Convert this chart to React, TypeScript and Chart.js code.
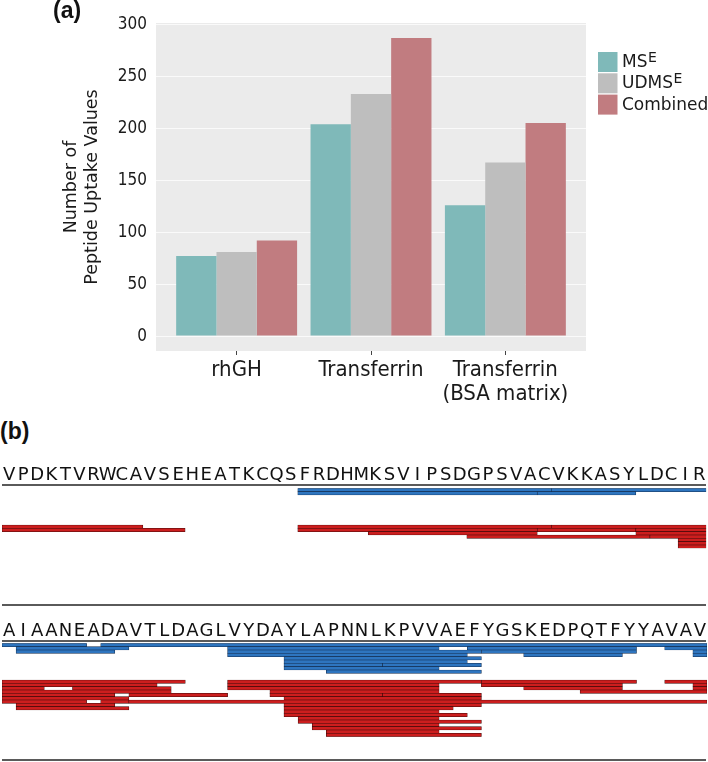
import React, { useEffect, useRef } from 'react';
import { Chart, registerables } from 'chart.js';

Chart.register(...registerables);

// ---------------- (a) bar chart data ----------------
const CATEGORIES: (string | string[])[] = ['rhGH', 'Transferrin', ['Transferrin', '(BSA matrix)']];
const MSE_VALUES = [77, 204, 126];
const UDMSE_VALUES = [81, 233, 167];
const COMBINED_VALUES = [92, 287, 205];
const Y_TICK_VALUES = [0, 50, 100, 150, 200, 250, 300];
const SERIES_BASE = ['MS', 'UDMS', 'Combined'];
const SERIES_SUP = ['E', 'E', ''];
const AXIS_TITLE = ['Number of', 'Peptide Uptake Values'];

// ---------------- (b) coverage map data ----------------
const SEQUENCE_1 = 'VPDKTVRWCAVSEHEATKCQSFRDHMKSVIPSDGPSVACVKKASYLDCIR';
const SEQUENCE_2 = 'AIAANEADAVTLDAGLVYDAYLAPNNLKPVVAEFYGSKEDPQTFYYAVAV';
// [row, first residue, last residue] (0-based positions within the line)
const BLUE_PEPTIDES_1 = [
  [0, 21, 38], [0, 39, 49],
  [1, 21, 37], [1, 38, 44],
];
const RED_PEPTIDES_1 = [
  [0, 0, 9], [0, 21, 38], [0, 39, 49],
  [1, 0, 12], [1, 21, 37], [1, 38, 44], [1, 45, 49],
  [2, 26, 37], [2, 45, 49],
  [3, 33, 45], [3, 46, 49],
  [4, 48, 49], [5, 48, 49], [6, 48, 49],
];
const BLUE_PEPTIDES_2 = [
  [0, 0, 5], [0, 7, 49],
  [1, 1, 8], [1, 16, 30], [1, 33, 44], [1, 47, 49],
  [2, 1, 7], [2, 16, 33], [2, 34, 44], [2, 49, 49],
  [3, 16, 32], [3, 37, 43], [3, 49, 49],
  [4, 20, 33],
  [5, 20, 32],
  [6, 20, 26], [6, 27, 33],
  [7, 20, 30],
  [8, 23, 33],
];
const RED_PEPTIDES_2 = [
  [0, 0, 12], [0, 16, 33], [0, 34, 44], [0, 47, 49],
  [1, 0, 10], [1, 16, 30], [1, 34, 43], [1, 49, 49],
  [2, 0, 2], [2, 5, 11], [2, 16, 30], [2, 37, 43], [2, 49, 49],
  [3, 0, 11], [3, 19, 30], [3, 41, 49],
  [4, 0, 7], [4, 9, 15], [4, 19, 26], [4, 27, 33],
  [5, 0, 8], [5, 20, 33],
  [6, 0, 5], [6, 7, 8], [6, 9, 49],
  [7, 1, 7], [7, 20, 33],
  [8, 1, 8], [8, 20, 31],
  [9, 20, 30],
  [10, 20, 32],
  [11, 21, 30],
  [12, 21, 33],
  [13, 22, 30],
  [14, 22, 33],
  [15, 23, 30],
  [16, 23, 33],
];

const TEAL = '#7FB9B9';
const GREY = '#BEBEBE';
const ROSE = '#C17C80';
const SERIES_COLORS = [TEAL, GREY, ROSE];
const BLUE = '#2E75BF';
const BLUE_EDGE = '#122C4C';
const RED = '#CC1E1E';
const RED_EDGE = '#3C0808';
const TEXT = '#1a1a1a';
const COND = '"DejaVu Sans Condensed", "DejaVu Sans", sans-serif';
const SANS = '"DejaVu Sans", Verdana, sans-serif';

const panelPlugin = {
  id: 'panelBg',
  beforeDraw(chart: any) {
    const { ctx, chartArea: a } = chart;
    ctx.save();
    ctx.fillStyle = '#EBEBEB';
    ctx.fillRect(a.left, a.top, a.right - a.left, a.bottom - a.top);
    ctx.restore();
  },
};

const legendPlugin = {
  id: 'customLegend',
  afterDraw(chart: any) {
    const ctx = chart.ctx;
    ctx.save();
    SERIES_BASE.forEach((name, i) => {
      const y0 = 52 + i * 21.3;
      ctx.fillStyle = SERIES_COLORS[i];
      ctx.fillRect(598, y0, 19.5, 20);
      ctx.fillStyle = TEXT;
      ctx.textBaseline = 'alphabetic';
      ctx.textAlign = 'left';
      ctx.font = `17px ${SANS}`;
      const base = y0 + 15;
      ctx.fillText(name, 622, base);
      if (SERIES_SUP[i]) {
        const w = ctx.measureText(name).width;
        ctx.font = `14px ${SANS}`;
        ctx.fillText(SERIES_SUP[i], 622 + w + 0.5, base - 5.5);
      }
    });
    ctx.restore();
  },
};

function BarPanel() {
  const ref = useRef<HTMLCanvasElement>(null);
  useEffect(() => {
    const series = [MSE_VALUES, UDMSE_VALUES, COMBINED_VALUES];
    const chart = new Chart(ref.current as HTMLCanvasElement, {
      type: 'bar',
      data: {
        datasets: series.map((vals, si) => ({
          label: SERIES_BASE[si] + SERIES_SUP[si],
          data: vals.map((v, i) => ({ x: i + 1, y: v })),
          backgroundColor: SERIES_COLORS[si],
          borderWidth: 0,
          categoryPercentage: 0.9,
          barPercentage: 1,
        })),
      },
      options: {
        animation: false,
        responsive: false,
        events: [],
        layout: { padding: { left: 0, right: 122, top: 23, bottom: 0 } },
        scales: {
          x: {
            type: 'linear',
            min: 0.4,
            max: 3.6,
            offset: false,
            afterBuildTicks: (s: any) => {
              s.ticks = CATEGORIES.map((_, i) => ({ value: i + 1 }));
            },
            afterFit: (s: any) => {
              s.height = 64;
            },
            grid: { display: true, offset: false, drawOnChartArea: false, drawTicks: true, tickLength: 4, color: '#444', lineWidth: 1 },
            border: { display: false },
            ticks: {
              autoSkip: false,
              maxRotation: 0,
              minRotation: 0,
              padding: 2.9,
              color: TEXT,
              font: { family: COND, size: 22, lineHeight: 1.1 },
              callback: (v: any) => CATEGORIES[Math.round(v) - 1],
            },
          },
          y: {
            type: 'linear',
            min: -14.35,
            max: 301.35,
            afterBuildTicks: (s: any) => {
              s.ticks = Y_TICK_VALUES.map((v) => ({ value: v }));
            },
            afterFit: (s: any) => {
              s.width = 156;
            },
            grid: { color: '#FAFAFA', lineWidth: 1, drawTicks: false },
            border: { display: false },
            ticks: { padding: 9, color: TEXT, font: { family: COND, size: 17 } },
            title: {
              display: true,
              text: AXIS_TITLE,
              color: TEXT,
              font: { family: SANS, size: 17.5, lineHeight: 1.2 },
              padding: { top: 60.5, bottom: 0 },
            },
          },
        },
        plugins: { legend: { display: false }, tooltip: { enabled: false } },
      } as any,
      plugins: [panelPlugin, legendPlugin],
    });
    return () => chart.destroy();
  }, []);
  return (
    <canvas
      ref={ref}
      width={708}
      height={415}
      style={{ position: 'absolute', left: 0, top: 0, width: 708, height: 415 }}
    />
  );
}

const ROW = 10 / 3;

function CoverageBlock(props: {
  seq: string;
  blue: number[][];
  red: number[][];
  top: number;
  height: number;
  areaTop: number;
  rows: number;
  tickPad: number;
}) {
  const { seq, blue, red, top, height, areaTop, rows, tickPad } = props;
  const ref = useRef<HTMLCanvasElement>(null);
  useEffect(() => {
    const toPoints = (list: number[][], offset: number) =>
      list.map(([r, s, e]) => ({ x: [s - 0.5, e + 0.5], y: r + offset }));
    const common = {
      borderWidth: 0.6,
      borderSkipped: false,
      grouped: false,
      barPercentage: 1,
      categoryPercentage: 1,
    };
    const chart = new Chart(ref.current as HTMLCanvasElement, {
      type: 'bar',
      data: {
        datasets: [
          { label: 'blue', data: toPoints(blue, 0), backgroundColor: BLUE, borderColor: BLUE_EDGE, ...common },
          { label: 'red', data: toPoints(red, 11), backgroundColor: RED, borderColor: RED_EDGE, ...common },
        ] as any,
      },
      options: {
        indexAxis: 'y',
        animation: false,
        responsive: false,
        events: [],
        layout: { padding: { left: 2, right: 1, top: 0, bottom: height - areaTop - rows * ROW } },
        scales: {
          x: {
            type: 'linear',
            position: 'top',
            min: -0.5,
            max: seq.length - 0.5,
            offset: false,
            afterBuildTicks: (s: any) => {
              s.ticks = seq.split('').map((_, i) => ({ value: i }));
            },
            afterFit: (s: any) => {
              s.height = areaTop;
            },
            grid: { display: false, drawTicks: false },
            border: { display: false },
            ticks: {
              autoSkip: false,
              maxRotation: 0,
              minRotation: 0,
              padding: tickPad,
              color: '#111',
              font: { family: SANS, size: 18, lineHeight: 1.2 },
              callback: (v: any) => seq[Math.round(v)],
            },
          },
          y: {
            type: 'linear',
            display: false,
            reverse: true,
            offset: false,
            min: -0.5,
            max: rows - 0.5,
            afterBuildTicks: (s: any) => {
              s.ticks = Array.from({ length: rows }, (_, i) => ({ value: i }));
            },
          },
        },
        plugins: { legend: { display: false }, tooltip: { enabled: false } },
      } as any,
    });
    return () => chart.destroy();
  }, []);
  return (
    <canvas
      ref={ref}
      width={708}
      height={height}
      style={{ position: 'absolute', left: 0, top, width: 708, height }}
    />
  );
}

const lineStyle = (top: number): React.CSSProperties => ({
  position: 'absolute',
  left: 2,
  top,
  width: 704,
  height: 2,
  background: '#5a5a5a',
});

const panelLabel = (left: number, top: number): React.CSSProperties => ({
  position: 'absolute',
  left,
  top,
  font: 'bold 23px "Liberation Sans", Arial, sans-serif',
  lineHeight: '23px',
  color: '#111',
  whiteSpace: 'nowrap',
});

export default function App() {
  return (
    <div style={{ position: 'absolute', left: 0, top: 0, width: 708, height: 762, background: '#fff', overflow: 'hidden' }}>
      <BarPanel />
      <div style={panelLabel(53, -1)}>(a)</div>
      <div style={panelLabel(0, 420)}>(b)</div>
      <CoverageBlock seq={SEQUENCE_1} blue={BLUE_PEPTIDES_1} red={RED_PEPTIDES_1} top={450} height={100} areaTop={38.333} rows={18} tickPad={2.5} />
      <div style={lineStyle(484)} />
      <div style={lineStyle(604)} />
      <CoverageBlock seq={SEQUENCE_2} blue={BLUE_PEPTIDES_2} red={RED_PEPTIDES_2} top={610} height={130} areaTop={33.333} rows={28} tickPad={0.8} />
      <div style={lineStyle(640)} />
      <div style={lineStyle(759)} />
    </div>
  );
}
